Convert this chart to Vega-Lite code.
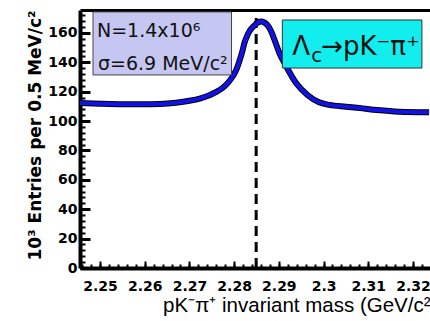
{
  "$schema": "https://vega.github.io/schema/vega-lite/v6.json",
  "width": 350,
  "height": 258,
  "autosize": "none",
  "padding": {"left": 80, "top": 10, "right": 0, "bottom": 53},
  "background": "white",
  "view": {"stroke": null},
  "config": {"font": "Liberation Sans"},
  "datasets": {
    "spectrum": [
      {"mass": 2.2455, "entries": 112.3},
      {"mass": 2.2500, "entries": 111.8},
      {"mass": 2.2545, "entries": 111.5},
      {"mass": 2.2590, "entries": 111.5},
      {"mass": 2.2634, "entries": 111.7},
      {"mass": 2.2670, "entries": 112.5},
      {"mass": 2.2700, "entries": 113.8},
      {"mass": 2.2725, "entries": 115.5},
      {"mass": 2.2745, "entries": 117.6},
      {"mass": 2.2760, "entries": 119.8},
      {"mass": 2.2774, "entries": 122.5},
      {"mass": 2.2786, "entries": 126.0},
      {"mass": 2.2797, "entries": 130.5},
      {"mass": 2.2805, "entries": 135.0},
      {"mass": 2.2812, "entries": 141.0},
      {"mass": 2.2818, "entries": 147.0},
      {"mass": 2.2823, "entries": 153.0},
      {"mass": 2.2829, "entries": 158.0},
      {"mass": 2.2835, "entries": 161.5},
      {"mass": 2.2845, "entries": 165.0},
      {"mass": 2.2853, "entries": 167.0},
      {"mass": 2.2861, "entries": 167.7},
      {"mass": 2.2868, "entries": 167.0},
      {"mass": 2.2875, "entries": 165.2},
      {"mass": 2.2883, "entries": 161.0},
      {"mass": 2.2890, "entries": 155.5},
      {"mass": 2.2901, "entries": 146.5},
      {"mass": 2.2917, "entries": 137.0},
      {"mass": 2.2939, "entries": 125.7},
      {"mass": 2.2964, "entries": 117.8},
      {"mass": 2.2990, "entries": 112.8},
      {"mass": 2.3013, "entries": 111.0},
      {"mass": 2.3050, "entries": 109.8},
      {"mass": 2.3080, "entries": 108.9},
      {"mass": 2.3120, "entries": 107.5},
      {"mass": 2.3169, "entries": 106.4},
      {"mass": 2.3236, "entries": 106.0}
    ]
  },
  "resolve": {"axis": {"x": "independent", "y": "independent"}},
  "layer": [
    {
      "data": {"values": [{}]},
      "mark": {"type": "rule", "color": "black", "strokeWidth": 3, "strokeDash": [10, 6]},
      "encoding": {
        "x": {"datum": 2.28493, "type": "quantitative", "scale": {"domain": [2.24553, 2.32381], "nice": false, "zero": false}, "axis": null},
        "y": {"datum": 0, "type": "quantitative", "scale": {"domain": [0, 175.6], "nice": false, "zero": false}, "axis": null},
        "y2": {"datum": 175.6}
      }
    },
    {
      "data": {"name": "spectrum"},
      "mark": {"type": "line", "color": "black", "strokeWidth": 6, "interpolate": "monotone"},
      "encoding": {
        "x": {
          "field": "mass", "type": "quantitative",
          "scale": {"domain": [2.24553, 2.32381], "nice": false, "zero": false},
          "axis": {
            "orient": "bottom",
            "values": [2.25, 2.26, 2.27, 2.28, 2.29, 2.3, 2.31, 2.32],
            "format": "~g",
            "domainColor": "black", "domainWidth": 4,
            "tickColor": "black", "tickWidth": 2, "tickSize": -7,
            "labelFont": "DejaVu Sans", "labelFontWeight": "bold", "labelFontSize": 14, "labelColor": "black",
            "labelPadding": 18, "labelFlush": false, "labelOverlap": false,
            "grid": false,
            "title": "pK⁻π⁺ invariant mass (GeV/c²",
            "titleFont": "Liberation Sans", "titleFontSize": 20.5, "titleFontWeight": "normal", "titleColor": "black",
            "titleAlign": "right", "titleBaseline": "alphabetic", "titleX": 350, "titleY": 43
          }
        },
        "y": {
          "field": "entries", "type": "quantitative",
          "scale": {"domain": [0, 175.6], "nice": false, "zero": false},
          "axis": {
            "orient": "left",
            "values": [0, 20, 40, 60, 80, 100, 120, 140, 160],
            "domainColor": "black", "domainWidth": 4,
            "tickColor": "black", "tickWidth": 3, "tickSize": -10,
            "labelFont": "DejaVu Sans", "labelFontWeight": "bold", "labelFontSize": 14, "labelColor": "black",
            "labelPadding": 13, "labelFlush": false, "labelOverlap": false,
            "grid": false,
            "title": "10³ Entries per 0.5 MeV/c²",
            "titleFont": "DejaVu Sans", "titleFontSize": 17, "titleFontWeight": "bold", "titleColor": "black",
            "titleAngle": -90, "titleAlign": "center", "titleBaseline": "alphabetic", "titleX": -40, "titleY": 125
          }
        }
      }
    },
    {
      "data": {"name": "spectrum"},
      "mark": {"type": "line", "color": "#1212e8", "strokeWidth": 4, "interpolate": "monotone"},
      "encoding": {
        "x": {
          "field": "mass", "type": "quantitative",
          "scale": {"domain": [2.24553, 2.32381], "nice": false, "zero": false},
          "axis": {
            "orient": "bottom",
            "values": [2.246, 2.248, 2.25, 2.252, 2.254, 2.256, 2.258, 2.26, 2.262, 2.264, 2.266, 2.268, 2.27, 2.272, 2.274, 2.276, 2.278, 2.28, 2.282, 2.284, 2.286, 2.288, 2.29, 2.292, 2.294, 2.296, 2.298, 2.3, 2.302, 2.304, 2.306, 2.308, 2.31, 2.312, 2.314, 2.316, 2.318, 2.32, 2.322],
            "domain": false, "labels": false, "grid": false, "title": null,
            "tickColor": "black", "tickWidth": 2, "tickSize": -4
          }
        },
        "y": {
          "field": "entries", "type": "quantitative",
          "scale": {"domain": [0, 175.6], "nice": false, "zero": false},
          "axis": {
            "orient": "left",
            "values": [0, 4, 8, 12, 16, 20, 24, 28, 32, 36, 40, 44, 48, 52, 56, 60, 64, 68, 72, 76, 80, 84, 88, 92, 96, 100, 104, 108, 112, 116, 120, 124, 128, 132, 136, 140, 144, 148, 152, 156, 160, 164, 168, 172],
            "domain": false, "labels": false, "grid": false, "title": null,
            "tickColor": "black", "tickWidth": 2, "tickSize": -5
          }
        }
      }
    },
    {
      "data": {"values": [{}]},
      "mark": {"type": "rect", "fill": "#c6c6f2", "stroke": "#444444", "strokeWidth": 1},
      "encoding": {
        "x": {
          "datum": 2.24844, "type": "quantitative",
          "scale": {"domain": [2.24553, 2.32381], "nice": false, "zero": false},
          "axis": {"orient": "top", "domain": true, "domainColor": "black", "domainWidth": 3, "ticks": false, "labels": false, "grid": false, "title": null}
        },
        "x2": {"datum": 2.27942},
        "y": {"datum": 131.4, "type": "quantitative", "scale": {"domain": [0, 175.6], "nice": false, "zero": false}, "axis": null},
        "y2": {"datum": 174.3}
      }
    },
    {
      "data": {"values": [{}]},
      "mark": {"type": "rect", "fill": "#12eeee", "stroke": "#333333", "strokeWidth": 1},
      "encoding": {
        "x": {"datum": 2.29079, "type": "quantitative", "scale": {"domain": [2.24553, 2.32381], "nice": false, "zero": false}, "axis": null},
        "x2": {"datum": 2.3220},
        "y": {"datum": 136.1, "type": "quantitative", "scale": {"domain": [0, 175.6], "nice": false, "zero": false}, "axis": null},
        "y2": {"datum": 168.8}
      }
    },
    {
      "data": {"values": [{"label": "N=1.4x10⁶"}]},
      "mark": {"type": "text", "font": "DejaVu Sans", "fontSize": 19, "color": "#111111", "align": "left", "baseline": "alphabetic"},
      "encoding": {
        "x": {"datum": 2.24933, "type": "quantitative", "scale": {"domain": [2.24553, 2.32381], "nice": false, "zero": false}, "axis": null},
        "y": {"datum": 157.3, "type": "quantitative", "scale": {"domain": [0, 175.6], "nice": false, "zero": false}, "axis": null},
        "text": {"field": "label"}
      }
    },
    {
      "data": {"values": [{"label": "σ=6.9 MeV/c²"}]},
      "mark": {"type": "text", "font": "DejaVu Sans", "fontSize": 19, "color": "#111111", "align": "left", "baseline": "alphabetic"},
      "encoding": {
        "x": {"datum": 2.24955, "type": "quantitative", "scale": {"domain": [2.24553, 2.32381], "nice": false, "zero": false}, "axis": null},
        "y": {"datum": 134.8, "type": "quantitative", "scale": {"domain": [0, 175.6], "nice": false, "zero": false}, "axis": null},
        "text": {"field": "label"}
      }
    },
    {
      "data": {"values": [{"label": "Λ"}]},
      "mark": {"type": "text", "font": "DejaVu Sans", "fontSize": 26, "color": "#111111", "align": "left", "baseline": "alphabetic"},
      "encoding": {
        "x": {"datum": 2.29302, "type": "quantitative", "scale": {"domain": [2.24553, 2.32381], "nice": false, "zero": false}, "axis": null},
        "y": {"datum": 145.0, "type": "quantitative", "scale": {"domain": [0, 175.6], "nice": false, "zero": false}, "axis": null},
        "text": {"field": "label"}
      }
    },
    {
      "data": {"values": [{"label": "c"}]},
      "mark": {"type": "text", "font": "DejaVu Sans", "fontSize": 20, "color": "#111111", "align": "left", "baseline": "alphabetic"},
      "encoding": {
        "x": {"datum": 2.29726, "type": "quantitative", "scale": {"domain": [2.24553, 2.32381], "nice": false, "zero": false}, "axis": null},
        "y": {"datum": 140.2, "type": "quantitative", "scale": {"domain": [0, 175.6], "nice": false, "zero": false}, "axis": null},
        "text": {"field": "label"}
      }
    },
    {
      "data": {"values": [{"label": "→pK⁻π⁺"}]},
      "mark": {"type": "text", "font": "DejaVu Sans", "fontSize": 26, "color": "#111111", "align": "left", "baseline": "alphabetic"},
      "encoding": {
        "x": {"datum": 2.29949, "type": "quantitative", "scale": {"domain": [2.24553, 2.32381], "nice": false, "zero": false}, "axis": null},
        "y": {"datum": 145.0, "type": "quantitative", "scale": {"domain": [0, 175.6], "nice": false, "zero": false}, "axis": null},
        "text": {"field": "label"}
      }
    }
  ]
}
